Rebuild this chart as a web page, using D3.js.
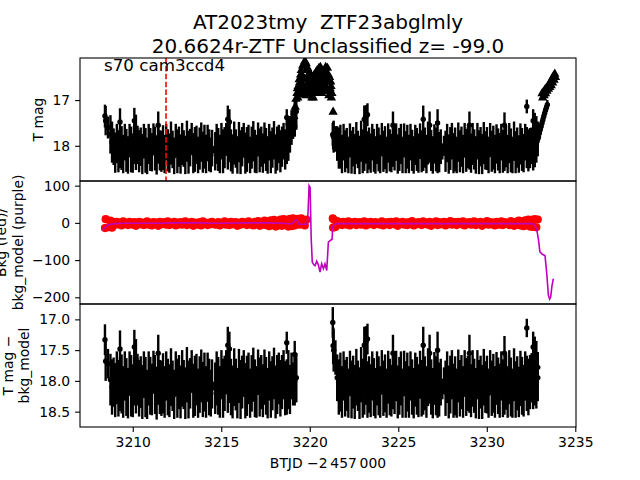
<!DOCTYPE html>
<html><head><meta charset="utf-8">
<script src="https://cdn.jsdelivr.net/npm/d3@7"></script>
<style>body{margin:0;background:#fff}svg{display:block}text{font-family:"DejaVu Sans",sans-serif}</style>
</head><body><svg id="c" width="640" height="480"></svg>
<script>
// ---------------- DATA ----------------
const titleLines = ["AT2023tmy  ZTF23abglmly", "20.6624r-ZTF Unclassified z= -99.0"];
const sectorLabel = "s70 cam3ccd4";
const markerT = 3211.88;
const xTicks = [3210, 3215, 3220, 3225, 3230, 3235];
const y1Ticks = [17, 18];
const y2Ticks = [100, 0, -100, -200];
const y3Ticks = [17.0, 17.5, 18.0, 18.5];

// segment A times (BTJD)
const tA = [3208.43,3208.47,3208.60,3208.74,3208.83,3208.92,3209.01,3209.10,
3209.19,3209.28,3209.37,3209.46,3209.55,3209.64,3209.73,3209.82,3209.91,3210.00,
3210.09,3210.18,3210.27,3210.36,3210.45,3210.54,3210.63,3210.72,3210.81,3210.90,
3210.99,3211.08,3211.17,3211.26,3211.35,3211.44,3211.53,3211.62,3211.71,3211.80,
3211.89,3211.98,3212.07,3212.16,3212.25,3212.34,3212.43,3212.52,3212.61,3212.70,
3212.79,3212.88,3212.97,3213.06,3213.15,3213.24,3213.33,3213.42,3213.51,3213.60,
3213.69,3213.78,3213.87,3213.96,3214.05,3214.14,3214.23,3214.32,3214.41,3214.48,
3214.66,3214.74,3214.83,3214.92,3215.01,3215.10,3215.19,3215.28,3215.37,3215.46,
3215.55,3215.64,3215.73,3215.82,3215.91,3216.00,3216.09,3216.18,3216.27,3216.36,
3216.45,3216.54,3216.63,3216.72,3216.81,3216.90,3216.99,3217.08,3217.17,3217.26,
3217.35,3217.44,3217.53,3217.62,3217.71,3217.80,3217.89,3217.98,3218.07,3218.16,
3218.25,3218.34,3218.43,3218.52,3218.61,3218.70,3218.79,3218.88,3218.97,3219.06,
3219.15,3219.24];
// T mag - bkg_model (panel 3), segment A
const magA = [17.33,17.68,17.72,17.98,18.10,18.02,18.15,17.95,18.12,18.05,
18.05,18.18,17.92,18.10,18.20,17.88,18.08,18.16,17.95,18.08,
17.98,18.12,18.02,18.18,17.90,18.10,18.22,17.96,18.08,18.14,
17.86,18.06,18.20,17.98,18.10,18.12,18.04,18.18,17.92,18.10,
18.16,17.94,18.08,18.22,17.88,18.12,18.02,18.18,17.96,18.06,
18.20,17.90,18.14,18.04,17.84,18.16,18.08,17.98,18.20,18.06,
17.92,18.14,18.02,18.18,17.94,18.10,18.20,18.05,18.12,17.96,
18.08,18.18,17.90,18.12,18.04,17.86,18.06,17.94,18.10,18.18,
17.94,18.06,18.20,17.92,18.14,18.02,17.88,18.16,18.08,17.96,
18.20,18.04,17.90,18.12,18.18,17.86,18.10,18.02,18.16,17.94,
18.08,18.20,17.92,18.14,18.04,17.88,18.18,18.06,17.96,18.12,
18.02,17.90,18.12,18.10,17.98,18.14,17.92,18.05,18.00,17.95];
const errA = [0.25,0.32,0.24,0.42,0.45,0.40,0.44,0.43,0.46,0.44,
0.48,0.42,0.40,0.47,0.41,0.36,0.50,0.43,0.45,0.45,
0.42,0.46,0.42,0.44,0.38,0.49,0.40,0.44,0.47,0.42,
0.35,0.48,0.43,0.41,0.44,0.45,0.49,0.42,0.40,0.46,
0.43,0.47,0.41,0.40,0.36,0.48,0.44,0.43,0.46,0.40,
0.42,0.45,0.47,0.41,0.34,0.44,0.49,0.42,0.40,0.46,
0.43,0.45,0.48,0.42,0.40,0.46,0.38,0.40,0.42,0.44,
0.47,0.42,0.40,0.48,0.45,0.36,0.46,0.42,0.46,0.43,
0.47,0.42,0.41,0.44,0.48,0.43,0.38,0.45,0.49,0.42,
0.40,0.46,0.44,0.47,0.42,0.37,0.48,0.44,0.43,0.45,
0.47,0.41,0.40,0.46,0.44,0.42,0.43,0.48,0.42,0.46,
0.44,0.40,0.44,0.45,0.48,0.40,0.38,0.35,0.40,0.40];
// T mag (panel 1), segment A
const rawA = [17.35,17.45,17.60,17.75,17.92,18.02,18.15,17.95,18.12,18.05,
18.05,18.18,17.92,18.10,18.20,17.88,18.08,18.16,17.95,18.08,
17.98,18.12,18.02,18.18,17.90,18.10,18.22,17.96,18.08,18.14,
17.86,18.06,18.20,17.98,18.10,18.12,18.04,18.18,17.92,18.10,
18.16,17.94,18.08,18.22,17.88,18.12,18.02,18.18,17.96,18.06,
18.20,17.90,18.14,18.04,17.84,18.16,18.08,17.98,18.20,18.06,
17.92,18.14,18.02,18.18,17.94,18.10,18.20,18.05,18.12,17.96,
18.08,18.18,17.90,18.12,18.04,17.86,18.06,17.94,18.10,18.18,
17.94,18.06,18.20,17.92,18.14,18.02,17.88,18.16,18.08,17.96,
18.20,18.04,17.90,18.12,18.18,17.86,18.10,18.02,18.16,17.94,
18.08,18.20,17.92,18.14,18.04,17.88,18.18,18.06,17.96,18.12,
18.02,17.90,18.08,17.95,17.85,17.75,17.60,17.50,17.40,17.25];
// bkg (panel 2 red), segment A
const bkgA = [-14,10,-12,6,-13,2,-5,3,-4,1,
-7,4,-3,0,-6,3,-2,-5,2,-8,
0,3,-4,1,-6,-1,4,-5,0,-7,
2,-3,1,-8,3,-4,-2,2,-5,4,
-6,0,-3,3,-7,1,-4,2,-5,-1,
4,-6,0,-4,3,-8,1,-2,-5,2,
-7,4,-3,0,-6,1,-4,3,-5,-1,
2,-7,0,-3,4,-5,1,-6,3,-4,
-2,2,-8,0,-5,3,-3,1,-6,4,
-4,-1,-7,3,-2,5,-8,2,-5,6,
-6,4,-9,7,-5,8,-10,5,-7,9,
-8,10,-6,8,-10,11,-9,12,-7,10];
// bright single points within segment A (panels 1 and 3)
const outAT = [3209.28,3210.09,3210.18,3211.44,3215.37,3215.46,3218.70,3219.15];
const outAM = [17.48,17.45,17.65,17.55,17.42,17.48,17.38,17.57];
const outAE = [0.30,0.28,0.33,0.30,0.30,0.28,0.18,0.22];

// segment B times
const tB = [3221.30,3221.32,3221.35,3221.45,
3221.55,3221.64,3221.73,3221.82,3221.91,3222.00,3222.09,3222.18,3222.27,3222.36,
3222.45,3222.54,3222.63,3222.72,3222.81,3222.90,3222.99,3223.08,3223.17,3223.26,
3223.35,3223.44,3223.53,3223.62,3223.71,3223.80,3223.89,3223.98,3224.07,3224.16,
3224.25,3224.34,3224.43,3224.52,3224.61,3224.70,3224.79,3224.88,3224.97,3225.06,
3225.15,3225.24,3225.33,3225.42,3225.51,3225.60,3225.69,3225.78,3225.87,3225.96,
3226.05,3226.14,3226.23,3226.32,3226.41,3226.50,3226.59,3226.68,3226.77,3226.86,
3226.95,3227.04,3227.13,3227.22,3227.31,3227.40,3227.49,3227.58,3227.67,3227.76,
3227.85,3227.94,3228.03,3228.12,3228.21,3228.30,3228.39,3228.48,3228.57,3228.66,
3228.75,3228.84,3228.93,3229.02,3229.11,3229.20,3229.29,3229.38,3229.47,3229.56,
3229.65,3229.74,3229.83,3229.92,3230.01,3230.10,3230.19,3230.28,3230.37,3230.46,
3230.55,3230.64,3230.73,3230.82,3230.91,3231.00,3231.09,3231.18,3231.27,3231.36,
3231.45,3231.54,3231.63,3231.72,3231.81,3231.90,3231.99,3232.08,3232.17,3232.26,
3232.35,3232.44,3232.53,3232.62,3232.71,3232.80,3232.88];
const magB = [17.05,17.43,17.50,17.62,17.95,18.10,18.02,18.18,17.92,18.12,
18.05,18.20,17.88,18.14,18.02,18.18,17.94,18.08,18.20,17.90,
18.12,18.10,17.96,18.14,18.06,18.16,17.92,18.10,18.20,17.96,
18.08,18.18,17.86,18.12,18.04,18.20,17.94,18.10,18.16,18.02,
18.06,17.92,18.18,18.08,17.96,18.20,17.88,18.14,18.02,18.18,
17.92,18.10,18.20,17.98,18.08,18.16,17.90,18.12,18.10,18.04,
18.18,17.94,17.94,18.10,18.20,17.96,18.08,18.16,18.14,18.02,
18.15,18.00,18.12,17.94,18.18,18.06,17.90,18.16,18.08,18.20,
17.92,18.12,18.02,18.18,17.88,18.10,18.04,18.06,18.16,17.96,
18.08,18.20,17.90,18.14,18.02,18.18,17.94,18.10,18.06,18.20,
17.86,18.12,18.04,18.18,17.96,18.08,18.16,17.92,18.12,18.12,
18.02,18.18,17.94,18.10,18.20,17.90,18.14,18.04,18.18,17.96,
18.08,18.16,17.92,18.04,18.10,18.02,17.95,18.02,17.98,18.05,17.95];
const errB = [0.25,0.30,0.35,0.28,0.38,0.45,0.48,0.42,0.40,0.46,
0.44,0.40,0.37,0.47,0.43,0.44,0.46,0.41,0.42,0.45,
0.48,0.45,0.43,0.46,0.46,0.43,0.40,0.47,0.41,0.44,
0.48,0.42,0.36,0.45,0.47,0.40,0.43,0.46,0.42,0.44,
0.48,0.41,0.43,0.47,0.44,0.40,0.37,0.46,0.48,0.42,
0.40,0.45,0.41,0.44,0.47,0.43,0.39,0.46,0.45,0.44,
0.42,0.47,0.43,0.45,0.41,0.43,0.48,0.44,0.44,0.38,
0.15,0.22,0.45,0.42,0.43,0.47,0.40,0.44,0.48,0.40,
0.43,0.46,0.44,0.42,0.38,0.47,0.45,0.46,0.43,0.46,
0.44,0.41,0.40,0.48,0.43,0.44,0.46,0.42,0.47,0.40,
0.36,0.45,0.48,0.42,0.43,0.46,0.44,0.40,0.47,0.43,
0.45,0.42,0.44,0.48,0.40,0.43,0.46,0.44,0.41,0.45,
0.47,0.42,0.40,0.45,0.46,0.44,0.40,0.44,0.42,0.40,0.38];
const rawB = [17.75,17.78,17.80,17.85,17.95,18.05,18.02,18.18,17.92,18.12,
18.05,18.20,17.88,18.14,18.02,18.18,17.94,18.08,18.20,17.90,
18.12,18.10,17.96,18.14,18.06,18.16,17.92,18.10,18.20,17.96,
18.08,18.18,17.86,18.12,18.04,18.20,17.94,18.10,18.16,18.02,
18.06,17.92,18.18,18.08,17.96,18.20,17.88,18.14,18.02,18.18,
17.92,18.10,18.20,17.98,18.08,18.16,17.90,18.12,18.10,18.04,
18.18,17.94,17.94,18.10,18.20,17.96,18.08,18.16,18.14,18.02,
18.15,18.00,18.12,17.94,18.18,18.06,17.90,18.16,18.08,18.20,
17.92,18.12,18.02,18.18,17.88,18.10,18.04,18.06,18.16,17.96,
18.08,18.20,17.90,18.14,18.02,18.18,17.94,18.10,18.06,18.20,
17.86,18.12,18.04,18.18,17.96,18.08,18.16,17.92,18.12,18.12,
18.02,18.18,17.94,18.10,18.20,17.90,18.14,18.04,18.18,17.96,
18.08,18.16,17.92,18.04,18.10,18.05,18.00,18.10,18.05,17.97,17.85];
const bkgB = [12,-13,9,-11,5,-4,2,-6,3,-2,
-5,4,-7,1,-3,3,-6,0,2,-5,
-1,4,-7,1,-4,3,-2,-6,2,-3,
0,-5,4,-7,1,-3,2,-6,3,-1,
-4,4,-8,0,-2,3,-5,1,-6,2,
-3,5,-7,0,-4,2,-1,-6,4,-3,
1,-5,3,-8,0,-2,4,-6,2,-4,
-1,3,-7,1,-3,5,-5,0,2,-6,
3,-2,-4,4,-7,1,-3,2,-5,0,
4,-6,1,-3,3,-8,0,-2,5,-5,
2,-4,1,-7,3,-1,-5,4,-6,2,
-3,0,-6,5,-2,-8,3,-4,6,-7,
4,-9,7,-6,9,-10,8,-11,10,-12,9];
// bright single points within segment B (panels 1 and 3)
const outBT = [3223.08,3223.17,3223.26,3224.70,3226.41,3226.77,3227.22,3229.02,3231.00,3232.26,3232.62,3232.71,3232.80,3232.88];
const outBM = [17.42,17.36,17.32,17.55,17.42,17.55,17.50,17.55,17.55,17.14,17.45,17.58,17.65,17.78];
const outBE = [0.30,0.25,0.25,0.30,0.30,0.30,0.30,0.30,0.28,0.15,0.25,0.30,0.30,0.25];

// extra red bkg points after segment A
const bkgXT = [3219.33,3219.42,3219.52,3219.62,3219.72,3219.82];
const bkgXV = [11,-5,12,3,-7,9];

// late bright points at end of segment B (panel 1)
const lateT = [3232.92,3232.97,3233.02,3233.07,3233.12,3233.17,3233.22,3233.27,3233.32,3233.37,3233.42];
const lateM = [17.80,17.72,17.64,17.57,17.50,17.43,17.36,17.29,17.22,17.16,17.10];
const lateE = [0.14,0.14,0.13,0.13,0.12,0.12,0.12,0.11,0.11,0.10,0.10];

// triangle markers (panel 1)
const triT = [3219.10,3219.18,3219.22,3219.28,3219.32,3219.35,3219.40,3219.45,3219.48,3219.52,
3219.55,3219.60,3219.64,3219.68,3219.72,3219.76,3219.80,3219.84,3219.88,3219.92,
3219.96,3220.00,3220.05,3220.10,3220.12,3220.18,3220.22,3220.26,3220.30,3220.34,
3220.38,3220.42,3220.48,3220.52,3220.56,3220.60,3220.65,3220.70,3220.75,3220.80,
3220.85,3220.90,3220.95,3221.00,3221.05,3221.10,3221.15,3221.20,3221.25,3221.32,
3219.30,3219.38,3219.42,3219.50,3219.58,3219.62,3219.66,3219.70,3219.74,3219.78,
3219.82,3219.86,3219.90,3219.94,3219.98,3220.02,3220.07,3220.15,3220.20,3220.25,
3220.32,3220.36,3220.40,3220.45,3220.50,3220.55,3220.58,3220.62,3220.68,3220.72,
3220.78,3220.82,3220.88,3220.92,3220.98,3221.02,3221.08,3221.12,3221.18,3221.22,
3233.12,3233.20,3233.28,3233.36,3233.44,3233.52,3233.60,3233.68,3233.76,3233.84,
3233.16,3233.24,3233.32,3233.40,3233.48,3233.56,3233.64,3233.72,3233.80,3233.88];
const triM = [17.35,17.15,16.98,16.85,16.95,16.70,16.55,16.85,16.45,16.35,
16.65,16.25,16.50,16.20,16.15,16.35,16.20,16.55,16.30,16.45,
16.70,16.40,16.60,16.75,16.95,16.55,16.70,16.45,16.60,16.40,
16.55,16.35,16.50,16.30,16.42,16.28,16.60,16.45,16.70,16.50,
16.35,16.28,16.40,16.30,16.45,16.60,16.75,16.70,16.85,17.26,
16.75,16.88,16.62,16.78,16.88,16.68,16.82,16.55,16.72,16.90,
16.70,16.85,16.62,16.88,16.55,16.80,16.90,16.85,16.95,16.75,
16.85,16.68,16.80,16.62,16.75,16.85,16.55,16.72,16.85,16.60,
16.80,16.65,16.55,16.75,16.60,16.80,16.90,16.50,16.60,16.95,
16.86,16.82,16.78,16.74,16.70,16.65,16.60,16.54,16.48,16.43,
16.95,16.90,16.86,16.80,16.76,16.72,16.68,16.62,16.56,16.50];

// bkg_model (panel 2 purple)
const modT = [3208.27,3208.40,3208.55,3208.75,3209.00,3209.50,3210.50,3211.50,3212.50,3213.50,
3214.50,3215.50,3216.50,3217.50,3218.50,3218.95,3219.10,3219.22,3219.30,3219.38,
3219.50,3219.65,3219.78,3219.86,3219.91,3219.96,3220.02,3220.08,3220.14,3220.22,
3220.30,3220.39,3220.48,3220.58,3220.67,3220.77,3220.86,3220.96,3221.05,3221.15,
3221.26,3221.30,3221.40,3221.55,3222.00,3223.00,3224.00,3225.00,3226.00,3227.00,
3228.00,3229.00,3230.00,3231.00,3232.00,3232.50,3232.63,3232.72,3232.82,3232.92,
3233.00,3233.15,3233.29,3233.39,3233.48,3233.55,3233.61,3233.68,3233.76];
const modV = [-20,-14,-7,-4,-2,-1,-1,-1,0,0,
-1,-1,0,0,-1,-3,2,9,6,-3,
-4,-3,-4,-2,35,100,95,-40,-105,-112,
-115,-103,-112,-132,-110,-123,-110,-128,-52,-48,
-44,-10,-4,-2,-2,-2,-2,-2,-2,-2,
-2,-2,-2,-2,-2,-2,-3,-8,-17,-45,
-78,-85,-88,-137,-195,-205,-199,-170,-150];

// ---------------- CHECK ----------------
function chk(n, ...arrs){ arrs.forEach((a,i)=>{ if(a.length!==n) throw new Error("len mismatch "+i+": "+a.length+" vs "+n); }); }
chk(tA.length, magA, errA, rawA, bkgA);
chk(tB.length, magB, errB, rawB, bkgB);
chk(outAT.length, outAM, outAE); chk(outBT.length, outBM, outBE);
chk(triT.length, triM); chk(modT.length, modV); chk(lateT.length, lateM, lateE); chk(bkgXT.length, bkgXV);

// ---------------- DRAW ----------------
const svg = d3.select("#c");
svg.append("rect").attr("width",640).attr("height",480).attr("fill","#fff");
const L = 80, R = 576;
const P = [{top:58,bot:181},{top:181,bot:304},{top:304,bot:427}];
const x = d3.scaleLinear().domain([3207.02, 3235.04]).range([L, R]);
const y1 = d3.scaleLinear().domain([16.08, 18.77]).range([P[0].top, P[0].bot]);
const y2 = d3.scaleLinear().domain([112.5, -218]).range([P[1].top, P[1].bot]);
const y3 = d3.scaleLinear().domain([16.75, 18.75]).range([P[2].top, P[2].bot]);

const defs = svg.append("defs");
P.forEach((p,i)=>{
  defs.append("clipPath").attr("id","clip"+i).append("rect")
    .attr("x",L).attr("y",p.top).attr("width",R-L).attr("height",p.bot-p.top);
});
const g = P.map((p,i)=>svg.append("g").attr("clip-path",`url(#clip${i})`));

function errbars(gr, ts, ms, es, ys){
  const d = ts.map((t,i)=>({t, m:ms[i], e:es[i]}));
  gr.append("g").selectAll("line").data(d).join("line")
    .attr("x1",d=>x(d.t)).attr("x2",d=>x(d.t))
    .attr("y1",d=>ys(d.m-d.e)).attr("y2",d=>ys(d.m+d.e))
    .attr("stroke","#000").attr("stroke-width",2.4);
  gr.append("g").selectAll("circle").data(d).join("circle")
    .attr("cx",d=>x(d.t)).attr("cy",d=>ys(d.m)).attr("r",2.7).attr("fill","#000");
}

// Panel 1
errbars(g[0], tA, rawA, errA, y1);
errbars(g[0], tB, rawB, errB, y1);
errbars(g[0], outAT, outAM, outAE, y1);
errbars(g[0], outBT, outBM, outBE, y1);
errbars(g[0], lateT, lateM, lateE, y1);
const tri = d3.symbol().type(d3.symbolTriangle).size(38);
g[0].append("g").selectAll("path").data(triT.map((t,i)=>({t,m:triM[i]}))).join("path")
  .attr("d", tri).attr("transform", d=>`translate(${x(d.t)},${y1(d.m)})`).attr("fill","#000");

// Panel 2
const red = g[1].append("g");
[[tA,bkgA],[bkgXT,bkgXV],[tB,bkgB]].forEach(([ts,vs])=>{
  red.append("g").selectAll("circle").data(ts.map((t,i)=>({t,v:vs[i]}))).join("circle")
    .attr("cx",d=>x(d.t)).attr("cy",d=>y2(d.v)).attr("r",4.1).attr("fill","#ff0000");
});
g[1].append("path").datum(modT.map((t,i)=>({t,v:modV[i]})))
  .attr("d", d3.line().x(d=>x(d.t)).y(d=>y2(d.v)))
  .attr("fill","none").attr("stroke","#bf00bf").attr("stroke-width",1.6);

// Panel 3
errbars(g[2], tA, magA, errA, y3);
errbars(g[2], tB, magB, errB, y3);
errbars(g[2], outAT, outAM, outAE, y3);
errbars(g[2], outBT, outBM, outBE, y3);

// vertical dashed marker
svg.append("line").attr("x1",x(markerT)).attr("x2",x(markerT))
  .attr("y1",P[0].top).attr("y2",P[0].bot)
  .attr("stroke","#ff0000").attr("stroke-width",1.6).attr("stroke-dasharray","5.5,2.4");

// frames
P.forEach(p=>{
  svg.append("rect").attr("x",L).attr("y",p.top).attr("width",R-L).attr("height",p.bot-p.top)
    .attr("fill","none").attr("stroke","#000").attr("stroke-width",1.1);
});

// axes
function styleAxis(a){
  a.select(".domain").remove();
  a.selectAll(".tick line").attr("stroke","#000").attr("stroke-width",1.1);
  a.selectAll(".tick text").attr("fill","#000").style("font-size","13.9px").style("font-family","DejaVu Sans");
}
const ax1 = svg.append("g").attr("transform",`translate(${L},0)`)
  .call(d3.axisLeft(y1).tickValues(y1Ticks).tickFormat(d3.format("d")).tickSize(4.9).tickPadding(4.9));
styleAxis(ax1);
const ax2 = svg.append("g").attr("transform",`translate(${L},0)`)
  .call(d3.axisLeft(y2).tickValues(y2Ticks).tickFormat(d3.format("d")).tickSize(4.9).tickPadding(4.9));
styleAxis(ax2);
const ax3 = svg.append("g").attr("transform",`translate(${L},0)`)
  .call(d3.axisLeft(y3).tickValues(y3Ticks).tickFormat(d3.format(".1f")).tickSize(4.9).tickPadding(4.9));
styleAxis(ax3);
const axx = svg.append("g").attr("transform",`translate(0,${P[2].bot})`)
  .call(d3.axisBottom(x).tickValues(xTicks).tickFormat(d3.format("d")).tickSize(4.9).tickPadding(4.9));
styleAxis(axx);

// texts
const T = svg.append("g").attr("fill","#000");
T.append("text").attr("x",328).attr("y",29).attr("text-anchor","middle").style("font-size","20px").style("white-space","pre").attr("xml:space","preserve").text(titleLines[0]);
T.append("text").attr("x",328).attr("y",53).attr("text-anchor","middle").style("font-size","20px").text(titleLines[1]);
T.append("text").attr("x",104).attr("y",70.5).style("font-size","16.7px").text(sectorLabel);
T.append("text").attr("x",328).attr("y",467.5).attr("text-anchor","middle").style("font-size","13.9px").text("BTJD \u22122\u2009457\u2009000");
function ylab(xb, yc, s){
  T.append("text").attr("transform",`translate(${xb},${yc}) rotate(-90)`).attr("text-anchor","middle")
    .style("font-size","13.9px").text(s);
}
ylab(43, (P[0].top+P[0].bot)/2, "T mag");
ylab(6, (P[1].top+P[1].bot)/2, "Bkg (red)/");
ylab(22.5, (P[1].top+P[1].bot)/2, "bkg_model (purple)");
ylab(12.5, (P[2].top+P[2].bot)/2, "T mag \u2212");
ylab(29.2, (P[2].top+P[2].bot)/2, "bkg_model");
</script></body></html>
